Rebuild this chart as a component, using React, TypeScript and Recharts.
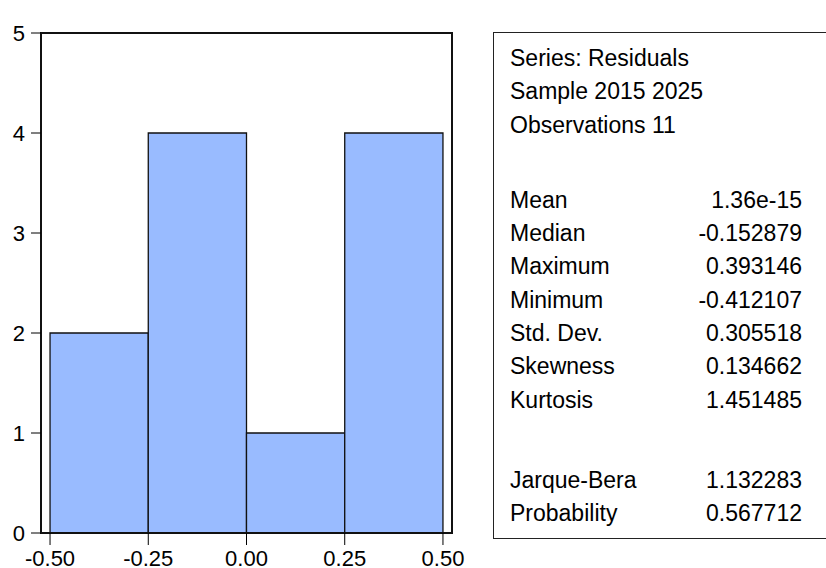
import { ComposedChart, XAxis, YAxis, ReferenceArea, Line } from 'recharts';

// histogram bins (residuals)
const binStarts = [-0.5, -0.25, 0, 0.25];
const binEnds = [-0.25, 0, 0.25, 0.5];
const binCounts = [2, 4, 1, 4];

const xTicks = [-0.5, -0.25, 0, 0.25, 0.5];
const yTicks = [0, 1, 2, 3, 4, 5];

// stats box text
const headerLines = ['Series: Residuals', 'Sample 2015 2025', 'Observations 11'];
const statLabels = ['Mean', 'Median', 'Maximum', 'Minimum', 'Std. Dev.', 'Skewness', 'Kurtosis'];
const statValues = ['1.36e-15', '-0.152879', '0.393146', '-0.412107', '0.305518', '0.134662', '1.451485'];
const testLabels = ['Jarque-Bera', 'Probability'];
const testValues = ['1.132283', '0.567712'];

const FONT = '"Liberation Sans", Arial, sans-serif';
const LINE_H = 33.3;

const data = binStarts.map((s, i) => ({ x: (s + binEnds[i]) / 2, count: binCounts[i] }));

const Row = ({ label, value }: { label: string; value?: string }) => (
  <div style={{ display: 'flex', justifyContent: 'space-between', height: LINE_H, lineHeight: `${LINE_H}px`, width: 292 }}>
    <span>{label}</span>
    {value !== undefined && <span>{value}</span>}
  </div>
);

export default function App() {
  return (
    <div style={{ position: 'absolute', left: 0, top: 0, width: 826, height: 568, overflow: 'hidden', background: '#fff' }}>
      <ComposedChart
        width={826}
        height={568}
        data={data}
        margin={{ top: 33, right: 374, bottom: 0, left: 0 }}
      >
        <XAxis
          dataKey="x"
          type="number"
          domain={[-0.523, 0.523]}
          allowDataOverflow
          ticks={xTicks}
          tickFormatter={(v) => v.toFixed(2)}
          tickSize={12}
          tickMargin={5}
          height={35}
          axisLine={false}
          tickLine={{ stroke: '#000' }}
          tick={{ fill: '#000', fontSize: 22, fontFamily: FONT }}
        />
        <YAxis
          type="number"
          domain={[0, 5]}
          allowDataOverflow
          ticks={yTicks}
          width={41}
          tickSize={10}
          tickMargin={6}
          axisLine={false}
          tickLine={{ stroke: '#000' }}
          tick={{ fill: '#000', fontSize: 22, fontFamily: FONT }}
        />
        {/* invisible series so the axes get their scales */}
        <Line dataKey="count" stroke="none" dot={false} activeDot={false} isAnimationActive={false} />
        {binStarts.map((s, i) => (
          <ReferenceArea
            key={i}
            x1={s}
            x2={binEnds[i]}
            y1={0}
            y2={binCounts[i]}
            fill="#99bbff"
            fillOpacity={1}
            stroke="#111"
            strokeWidth={1.3}
            ifOverflow="visible"
          />
        ))}
        {/* plot frame */}
        <ReferenceArea
          x1={-0.523}
          x2={0.523}
          y1={0}
          y2={5}
          fill="none"
          stroke="#111"
          strokeWidth={2}
          ifOverflow="visible"
        />
      </ComposedChart>

      {/* statistics box */}
      <div
        style={{
          position: 'absolute',
          left: 493,
          top: 32,
          width: 400,
          height: 507,
          border: '1.5px solid #222',
          fontFamily: FONT,
          fontSize: 23,
          color: '#000',
          paddingLeft: 16,
          boxSizing: 'border-box',
        }}
      >
        <div style={{ marginTop: 9 }}>
          {headerLines.map((t) => (
            <Row key={t} label={t} />
          ))}
        </div>
        <div style={{ marginTop: 42 }}>
          {statLabels.map((l, i) => (
            <Row key={l} label={l} value={statValues[i]} />
          ))}
        </div>
        <div style={{ marginTop: 47 }}>
          {testLabels.map((l, i) => (
            <Row key={l} label={l} value={testValues[i]} />
          ))}
        </div>
      </div>
    </div>
  );
}
